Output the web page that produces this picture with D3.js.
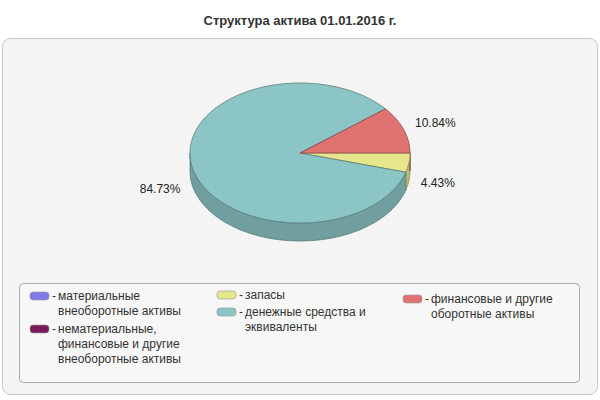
<!DOCTYPE html>
<html><head><meta charset="utf-8">
<script src="https://cdn.jsdelivr.net/npm/d3@7"></script>
<style>body{margin:0;background:#fff}text{font-family:"Liberation Sans",Arial,sans-serif}</style>
</head><body>
<script>
// DATA ------------------------------
const names = ["материальные внеоборотные активы", "нематериальные, финансовые и другие внеоборотные активы", "запасы", "денежные средства и эквиваленты", "финансовые и другие оборотные активы"];
const values = [0, 0, 4.43, 84.73, 10.84];
const colors = ["#7b7bea", "#7a1a5a", "#e6e68c", "#8cc5c5", "#e07272"];
const legendLines = [
  ["материальные", "внеоборотные активы"],
  ["нематериальные,", "финансовые и другие", "внеоборотные активы"],
  ["запасы"],
  ["денежные средства и", "эквиваленты"],
  ["финансовые и другие", "оборотные активы"]
];
const legendPos = [[30, 296], [30, 329], [217, 295], [217, 312], [403, 299]];

const svg = d3.select("body").append("svg").attr("width", 600).attr("height", 400);

svg.append("text").attr("x", 300).attr("y", 25).attr("text-anchor", "middle")
  .attr("font-weight", "bold").attr("font-size", 13).attr("fill", "#333")
  .text("Структура актива 01.01.2016 г.");

svg.append("rect").attr("x", 2.5).attr("y", 38.5).attr("width", 595).attr("height", 356)
  .attr("rx", 8).attr("fill", "#f4f4f4").attr("stroke", "#c8c8c8");

// PIE ------------------------------
const cx = 300, cy = 153, rx = 110, ry = 70, depth = 18;
const pie = d3.pie().sort(null).value(d => d).startAngle(Math.PI / 2).endAngle(Math.PI / 2 + 2 * Math.PI);
const arcs = pie(values).map((d, i) => ({...d, i, t0: d.startAngle - Math.PI / 2, t1: d.endAngle - Math.PI / 2}))
  .filter(d => d.value > 0);

const pt = (t, dy = 0) => [cx + rx * Math.cos(t), cy + ry * Math.sin(t) + dy];
function arcPts(t0, t1, dy) {
  const n = Math.max(2, Math.ceil(Math.abs(t1 - t0) / 0.02));
  return d3.range(n + 1).map(k => pt(t0 + (t1 - t0) * k / n, dy));
}
const line = d3.line();

// side walls (front half: sin t > 0, i.e. t in [0, PI] mod 2PI)
const sides = [];
arcs.forEach(d => {
  [0, 2 * Math.PI].forEach(off => {
    const a = Math.max(d.t0, off), b = Math.min(d.t1, off + Math.PI);
    if (b > a) sides.push({d, a, b});
  });
});
svg.selectAll(".side").data(sides).join("path").attr("class", "side")
  .attr("d", s => line(arcPts(s.a, s.b, 0).concat(arcPts(s.b, s.a, depth))) + "Z")
  .attr("fill", s => d3.color(colors[s.d.i]).darker(0.6))
  .attr("stroke", s => d3.color(colors[s.d.i]).darker(1.3)).attr("stroke-width", 0.8);

// top faces
svg.selectAll(".top").data(arcs).join("path").attr("class", "top")
  .attr("d", d => line([[cx, cy]].concat(arcPts(d.t0, d.t1, 0))) + "Z")
  .attr("fill", d => colors[d.i])
  .attr("stroke", d => d3.color(colors[d.i]).darker(1.3)).attr("stroke-width", 0.8);

// labels
svg.selectAll(".lbl").data(arcs).join("text").attr("class", "lbl")
  .each(function (d) {
    const t = (d.t0 + d.t1) / 2, c = Math.cos(t), s = Math.sin(t);
    d3.select(this).attr("x", cx + (rx + 12) * c)
      .attr("y", cy + (ry + 20) * s + (s > 0 ? depth : 0) + 4)
      .attr("text-anchor", c >= 0 ? "start" : "end");
  })
  .attr("font-size", 12).attr("fill", "#222")
  .text(d => d.value.toFixed(2) + "%");

// LEGEND ------------------------------
svg.append("rect").attr("x", 19.5).attr("y", 283.5).attr("width", 560).attr("height", 99)
  .attr("rx", 4).attr("fill", "#f7f7f7").attr("stroke", "#aaa");

const items = svg.selectAll(".leg").data(names).join("g").attr("class", "leg")
  .attr("transform", (d, i) => `translate(${legendPos[i][0]},${legendPos[i][1]})`);
items.append("rect").attr("x", 0).attr("y", -4).attr("width", 19).attr("height", 8).attr("rx", 3)
  .attr("fill", (d, i) => colors[i]).attr("stroke", "#999").attr("stroke-width", 0.6);
items.append("text").attr("x", 22).attr("y", 4).attr("font-size", 12).attr("fill", "#333").text("-");
items.each(function (d, i) {
  d3.select(this).selectAll(".ln").data(legendLines[i]).join("text").attr("class", "ln")
    .attr("x", 28).attr("y", (l, k) => 4 + k * 15).attr("font-size", 12).attr("fill", "#333").text(l => l);
});
</script>
</body></html>
